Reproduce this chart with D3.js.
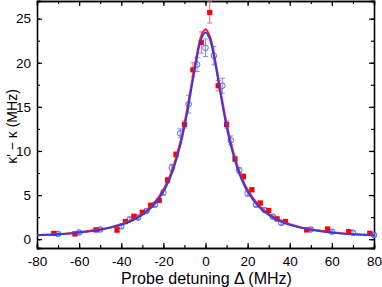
<!DOCTYPE html>
<html lang="en">
<head>
  <title>kappa vs probe detuning</title>
  <script type="text/javascript" src="https://cdnjs.cloudflare.com/ajax/libs/d3/7.8.5/d3.min.js"></script>
  <style>
    body { margin: 0px; background: #ffffff; }
    svg { display: block; font-family: "Liberation Sans", Arial, sans-serif; }
  </style>
</head>
<body>
  <script type="text/javascript">
    // red squares (measured)
    var redX   = [-72, -62, -52, -42, -38, -34, -30, -26, -22, -18, -14, -10, -6, -2, 2, 6, 10, 14, 18, 22, 26, 30, 34, 38, 48, 58, 68, 78];
    var redY   = [0.65, 0.6, 1.05, 1.05, 2.0, 2.6, 3.05, 3.85, 4.4, 6.7, 9.6, 13.0, 19.2, 22.3, 25.7, 17.4, 13.0, 9.1, 7.1, 5.6, 4.1, 3.25, 2.3, 2.0, 1.05, 1.15, 0.85, 0.67];
    var redErr = [0.2, 0.2, 0.2, 0.3, 0.2, 0.2, 0.2, 0.2, 0.2, 0.3, 0.3, 0.4, 0.8, 1.2, 1.2, 0.6, 0.4, 0.3, 0.3, 0.2, 0.2, 0.2, 0.2, 0.2, 0.2, 0.2, 0.2, 0.2];

    // blue open circles (measured)
    var blueX   = [-70, -60, -50, -40, -36, -32, -28, -24, -20, -16, -12, -8, -4, 0, 4, 8, 12, 16, 20, 24, 28, 32, 36, 50, 60, 70, 80];
    var blueY   = [0.6, 0.75, 1.1, 1.45, 2.25, 2.45, 3.2, 3.9, 5.3, 8.1, 12.0, 15.3, 19.8, 21.7, 20.8, 17.4, 11.2, 7.8, 5.2, 3.9, 3.3, 2.55, 1.85, 1.1, 0.85, 0.73, 0.47];
    var blueErr = [0.2, 0.2, 0.2, 0.2, 0.2, 0.2, 0.2, 0.2, 0.3, 0.4, 0.5, 1.0, 0.8, 1.0, 1.05, 0.85, 0.5, 0.3, 0.3, 0.2, 0.2, 0.2, 0.2, 0.2, 0.2, 0.2, 0.2];

    // fit curves
    var fitX     = [-80, -70, -60, -50, -40, -35, -30, -25, -20, -16, -12, -10, -8, -6, -4, -2, 0, 2, 4, 6, 8, 10, 12, 16, 20, 25, 30, 35, 40, 50, 60, 70, 80];
    var fitRedY  = [0.45, 0.58, 0.79, 1.12, 1.70, 2.18, 2.86, 3.92, 5.60, 7.73, 10.97, 13.13, 15.67, 18.42, 21.06, 23.05, 23.8, 23.05, 21.06, 18.42, 15.67, 13.13, 10.97, 7.73, 5.60, 3.92, 2.86, 2.18, 1.70, 1.12, 0.79, 0.58, 0.45];
    var fitBlueY = [0.43, 0.55, 0.75, 1.06, 1.62, 2.07, 2.73, 3.75, 5.37, 7.43, 10.60, 12.73, 15.24, 18.0, 20.67, 22.69, 23.45, 22.69, 20.67, 18.0, 15.24, 12.73, 10.60, 7.43, 5.37, 3.75, 2.73, 2.07, 1.62, 1.06, 0.75, 0.55, 0.43];

    var xTicks = [-80, -60, -40, -20, 0, 20, 40, 60, 80];
    var yTicks = [0, 5, 10, 15, 20, 25];

    var width = 382, height = 287;
    var margin = {top: 1, right: 8, bottom: 39, left: 37};
    var w = width - margin.left - margin.right;
    var h = height - margin.top - margin.bottom;

    var svg = d3.select("body").append("svg")
      .attr("width", width)
      .attr("height", height);

    var g = svg.append("g")
      .attr("transform", "translate(" + margin.left + "," + margin.top + ")");

    var x = d3.scaleLinear().domain([-80, 80]).range([0, w]);
    var y = d3.scaleLinear().domain([-1, 27]).range([h, 0]);

    var xMinor = d3.range(-80, 81, 10);
    var yMinor = d3.range(0, 27, 2.5);

    // minor ticks on all four sides
    g.append("g").attr("transform", "translate(0," + h + ")")
      .call(d3.axisBottom(x).tickValues(xMinor).tickSize(-3).tickFormat(""));
    g.append("g")
      .call(d3.axisTop(x).tickValues(xMinor).tickSize(-3).tickFormat(""));
    g.append("g")
      .call(d3.axisLeft(y).tickValues(yMinor).tickSize(-3).tickFormat(""));
    g.append("g").attr("transform", "translate(" + w + ",0)")
      .call(d3.axisRight(y).tickValues(yMinor).tickSize(-3).tickFormat(""));

    // major ticks + labels
    g.append("g").attr("class", "xax").attr("transform", "translate(0," + h + ")")
      .call(d3.axisBottom(x).tickValues(xTicks).tickSize(-5).tickPadding(8).tickFormat(d3.format("d")));
    g.append("g")
      .call(d3.axisTop(x).tickValues(xTicks).tickSize(-5).tickFormat(""));
    g.append("g").attr("class", "yax")
      .call(d3.axisLeft(y).tickValues(yTicks).tickSize(-5).tickPadding(6).tickFormat(d3.format("d")));
    g.append("g").attr("transform", "translate(" + w + ",0)")
      .call(d3.axisRight(y).tickValues(yTicks).tickSize(-5).tickFormat(""));

    g.selectAll(".domain").attr("stroke", "#000").attr("stroke-width", 1.3);
    g.selectAll(".tick line").attr("stroke", "#000").attr("stroke-width", 1.2);
    g.selectAll(".xax text, .yax text")
      .attr("font-size", "13.5px").attr("font-family", "Liberation Sans, Arial, sans-serif").attr("fill", "#000");
    g.selectAll(".xax text").text(function (d) { return d < 0 ? "-" + Math.abs(d) : d; });

    // error bars
    function errorBars(xs, ys, es, color) {
      var idx = d3.range(xs.length);
      var eb = g.append("g").attr("stroke", color).attr("stroke-width", 1);
      eb.selectAll("line.v").data(idx).enter().append("line")
        .attr("x1", function (i) { return x(xs[i]); })
        .attr("x2", function (i) { return x(xs[i]); })
        .attr("y1", function (i) { return y(ys[i] - es[i]); })
        .attr("y2", function (i) { return y(ys[i] + es[i]); });
      eb.selectAll("line.t").data(idx).enter().append("line")
        .attr("x1", function (i) { return x(xs[i]) - 2.5; })
        .attr("x2", function (i) { return x(xs[i]) + 2.5; })
        .attr("y1", function (i) { return y(ys[i] + es[i]); })
        .attr("y2", function (i) { return y(ys[i] + es[i]); });
      eb.selectAll("line.b").data(idx).enter().append("line")
        .attr("x1", function (i) { return x(xs[i]) - 2.5; })
        .attr("x2", function (i) { return x(xs[i]) + 2.5; })
        .attr("y1", function (i) { return y(ys[i] - es[i]); })
        .attr("y2", function (i) { return y(ys[i] - es[i]); });
    }
    errorBars(blueX, blueY, blueErr, "#7b8cff");
    errorBars(redX, redY, redErr, "#ff6a6a");

    // blue open circles
    g.append("g").selectAll("circle").data(d3.range(blueX.length)).enter().append("circle")
      .attr("cx", function (i) { return x(blueX[i]); })
      .attr("cy", function (i) { return y(blueY[i]); })
      .attr("r", 2.8)
      .attr("fill", "none")
      .attr("stroke", "#4866ff")
      .attr("stroke-width", 1);

    // red squares
    g.append("g").selectAll("rect").data(d3.range(redX.length)).enter().append("rect")
      .attr("x", function (i) { return x(redX[i]) - 2.6; })
      .attr("y", function (i) { return y(redY[i]) - 2.6; })
      .attr("width", 5.2)
      .attr("height", 5.2)
      .attr("fill", "#ff0000");

    // fit lines
    var line = d3.line().curve(d3.curveCatmullRom.alpha(0.5));
    g.append("path")
      .attr("d", line(fitX.map(function (v, i) { return [x(v), y(fitRedY[i])]; })))
      .attr("fill", "none").attr("stroke", "#ff1a1a").attr("stroke-width", 2);
    g.append("path")
      .attr("d", line(fitX.map(function (v, i) { return [x(v), y(fitBlueY[i])]; })))
      .attr("fill", "none").attr("stroke", "#2b3cf2").attr("stroke-width", 1.8);

    // axis titles
    svg.append("text")
      .attr("x", margin.left + w / 2 + 1)
      .attr("y", 284)
      .attr("text-anchor", "middle")
      .attr("font-size", "16px")
      .text("Probe detuning \u0394 (MHz)");

    svg.append("text")
      .attr("transform", "translate(17," + (margin.top + h / 2 + 2) + ") rotate(-90)")
      .attr("text-anchor", "middle")
      .attr("font-size", "14px")
      .text("\u03ba' \u2212 \u03ba (MHz)");
  </script>
</body>
</html>
